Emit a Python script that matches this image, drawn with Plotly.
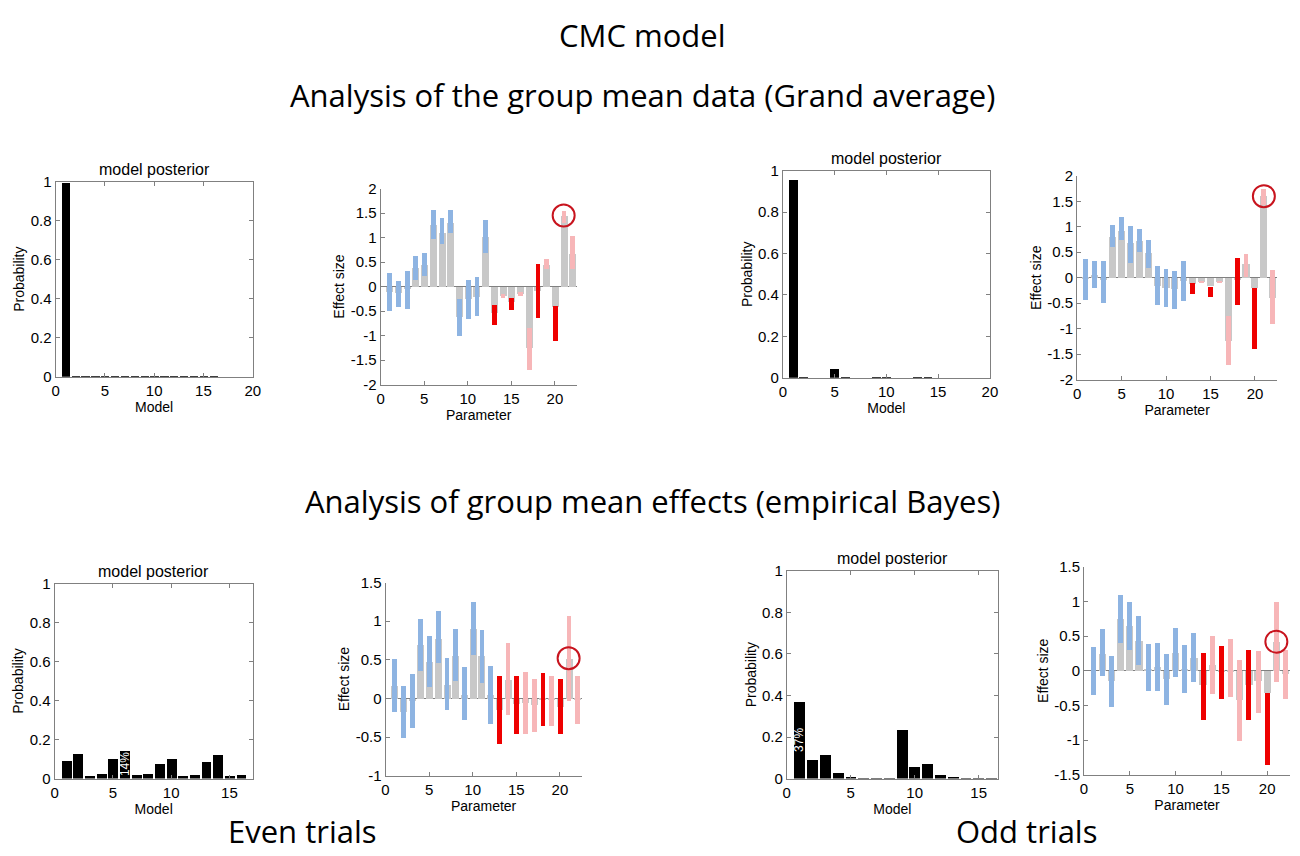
"""CMC model: model posteriors and parameter effect sizes (grand average vs PEB)."""

import plotly.graph_objects as go

W, H = 1300, 856

# ---- model posteriors (models 1..16) ----
models = list(range(1, 17))
post_ga_even = [0.995, 0.003, 0.001, 0.001, 0.004, 0.004, 0.001, 0.001,
                0.004, 0.004, 0.001, 0.001, 0.004, 0.004, 0.001, 0.001]
post_ga_odd = [0.955, 0.003, 0.0, 0.0, 0.043, 0.003, 0.0, 0.0,
               0.002, 0.002, 0.0, 0.0, 0.002, 0.002, 0.0, 0.0]
post_peb_even = [0.093, 0.130, 0.017, 0.027, 0.104, 0.144, 0.020, 0.027,
                 0.076, 0.105, 0.017, 0.020, 0.088, 0.122, 0.017, 0.020]
post_peb_odd = [0.368, 0.092, 0.113, 0.028, 0.006, 0.002, 0.002, 0.002,
                0.235, 0.058, 0.070, 0.020, 0.006, 0.002, 0.002, 0.002]

# ---- parameter effect sizes (parameters 1..22) ----
params = list(range(1, 23))
# b = blue, r = strong red, p = pale red
param_kind = ["b"] * 12 + ["r", "p", "r", "p", "p", "r", "p", "r", "p", "p"]
circled_param = 21

ga_even_mean = [-0.10, -0.12, -0.05, 0.38, 0.45, 1.27, 1.10, 1.30, -0.62, -0.25, -0.20,
                1.02, -0.52, -0.18, -0.30, -0.15, -1.25, -0.08, 0.45, -0.40, 1.45, 0.68]
ga_even_lo = [-0.48, -0.40, -0.45, 0.15, 0.22, 0.98, 0.87, 1.10, -1.00, -0.65, -0.60,
              0.70, -0.77, -0.22, -0.46, -0.19, -1.70, -0.64, 0.36, -1.10, 1.30, 0.36]
ga_even_hi = [0.29, 0.12, 0.32, 0.63, 0.70, 1.57, 1.40, 1.57, -0.25, 0.15, 0.20,
              1.37, -0.36, -0.14, -0.22, -0.11, -0.84, 0.47, 0.57, -0.39, 1.55, 1.04]

ga_odd_mean = [-0.03, 0.05, -0.05, 0.80, 0.93, 0.68, 0.72, 0.48, -0.15, -0.20, -0.22,
               -0.06, -0.12, -0.08, -0.15, -0.08, -1.23, -0.05, 0.28, -0.20, 1.60, -0.40]
ga_odd_lo = [-0.44, -0.20, -0.49, 0.60, 0.75, 0.30, 0.50, 0.20, -0.54, -0.57, -0.60,
             -0.46, -0.31, -0.10, -0.38, -0.10, -1.70, -0.53, 0.02, -1.40, 1.43, -0.91]
ga_odd_hi = [0.37, 0.34, 0.34, 1.04, 1.20, 1.01, 0.96, 0.74, 0.23, 0.17, 0.13,
             0.33, -0.10, -0.06, -0.17, -0.06, -0.75, 0.40, 0.47, -0.20, 1.75, 0.15]

peb_even_mean = [0.17, -0.17, -0.03, 0.70, 0.48, 0.78, 0.18, 0.55, 0.05, 0.90, 0.55,
                 0.05, -0.15, 0.25, -0.07, -0.05, -0.08, -0.01, -0.02, -0.10, 0.52, -0.01]
peb_even_lo = [-0.17, -0.51, -0.38, 0.36, 0.15, 0.46, -0.15, 0.23, -0.28, 0.57, 0.21,
               -0.32, -0.59, -0.21, -0.45, -0.46, -0.43, -0.35, -0.35, -0.45, -0.03, -0.33]
peb_even_hi = [0.51, 0.17, 0.32, 1.03, 0.82, 1.14, 0.53, 0.90, 0.41, 1.26, 0.89,
               0.42, 0.30, 0.72, 0.30, 0.35, 0.26, 0.33, 0.30, 0.26, 1.07, 0.30]

peb_odd_mean = [0.00, 0.25, -0.15, 0.75, 0.65, 0.43, 0.03, 0.05, -0.12, 0.26, 0.03,
                0.18, -0.20, 0.08, -0.02, -0.02, -0.42, -0.20, -0.15, -0.32, 0.42, -0.05]
peb_odd_lo = [-0.35, -0.08, -0.52, 0.40, 0.30, 0.09, -0.29, -0.29, -0.49, -0.09, -0.32,
              -0.16, -0.71, -0.34, -0.40, -0.37, -1.01, -0.71, -0.61, -1.36, -0.16, -0.40]
peb_odd_hi = [0.35, 0.61, 0.21, 1.10, 1.00, 0.79, 0.39, 0.40, 0.24, 0.62, 0.38,
              0.55, 0.26, 0.51, 0.36, 0.46, 0.16, 0.30, 0.29, -0.32, 1.00, 0.30]

KIND_COLORS = {"b": "rgb(142,180,226)", "r": "rgb(238,0,0)", "p": "rgb(247,182,184)"}
GREY = "rgb(200,200,200)"
AXIS_GREY = "rgb(128,128,128)"
CIRCLE_RED = "rgb(200,20,30)"
FONT = "Liberation Sans"
TICK_FONT = dict(family=FONT, size=15, color="black")
TITLE_FONT = dict(family=FONT, size=14, color="black")


def dom_x(left, right):
    return [left / W, right / W]


def dom_y(top, bottom):
    return [1 - bottom / H, 1 - top / H]


fig = go.Figure()


def add_posterior(n, post, x_range, x_ticks, dx, dy, pct_label=False):
    xa, ya = ("x", "y") if n == 1 else (f"x{n}", f"y{n}")
    fig.add_trace(go.Bar(x=models, y=post, width=0.85, marker=dict(color="black", line_width=0),
                         xaxis=xa, yaxis=ya, showlegend=False))
    common = dict(showline=True, linecolor=AXIS_GREY, linewidth=1, mirror="ticks",
                  ticks="inside", ticklen=4, tickcolor=AXIS_GREY, showgrid=False,
                  zeroline=False, tickfont=TICK_FONT)
    fig.layout[f"xaxis{n}"] = dict(domain=dom_x(*dx), range=x_range, tickvals=x_ticks,
                                   anchor=ya, title=dict(text="Model", standoff=0,
                                                         font=TITLE_FONT), **common)
    fig.layout[f"yaxis{n}"] = dict(domain=dom_y(*dy), range=[0, 1],
                                   tickvals=[0, 0.2, 0.4, 0.6, 0.8, 1],
                                   ticktext=["0", "0.2", "0.4", "0.6", "0.8", "1"],
                                   anchor=xa, title=dict(text="Probability", standoff=2,
                                                         font=TITLE_FONT), **common)
    fig.add_annotation(text="model posterior", xref=f"{xa} domain", yref=f"{ya} domain",
                       x=0.5, y=1, yanchor="bottom", yshift=2, showarrow=False,
                       font=dict(family=FONT, size=16, color="black"))
    if pct_label:
        best = max(range(len(post)), key=lambda i: post[i])
        fig.add_annotation(text=f"{round(post[best] * 100)}%", xref=xa, yref=ya,
                           x=models[best], y=post[best] / 2, textangle=-90, showarrow=False,
                           font=dict(family=FONT, size=12, color="white"))


def add_effects(n, mean, lo, hi, y_range, y_step, dx, dy):
    xa, ya = f"x{n}", f"y{n}"
    fig.add_trace(go.Bar(x=params, y=mean, width=0.8, marker=dict(color=GREY, line_width=0),
                         xaxis=xa, yaxis=ya, showlegend=False))
    for kind, color in KIND_COLORS.items():
        idx = [i for i, k in enumerate(param_kind) if k == kind]
        fig.add_trace(go.Bar(x=[params[i] for i in idx], base=[lo[i] for i in idx],
                             y=[hi[i] - lo[i] for i in idx], width=0.55,
                             marker=dict(color=color, line_width=0),
                             xaxis=xa, yaxis=ya, showlegend=False))
    ci = params.index(circled_param)
    fig.add_trace(go.Scatter(x=[circled_param], y=[mean[ci]], mode="markers",
                             marker=dict(symbol="circle-open", size=22, color=CIRCLE_RED,
                                         line=dict(color=CIRCLE_RED, width=2)),
                             xaxis=xa, yaxis=ya, showlegend=False))
    nticks = int(round((y_range[1] - y_range[0]) / y_step)) + 1
    yt = [round(y_range[0] + k * y_step, 2) for k in range(nticks)]
    common = dict(showline=True, linecolor=AXIS_GREY, linewidth=1, ticks="inside",
                  ticklen=4, tickcolor=AXIS_GREY, showgrid=False, tickfont=TICK_FONT)
    fig.layout[f"xaxis{n}"] = dict(domain=dom_x(*dx), range=[0, 22.5],
                                   tickvals=[0, 5, 10, 15, 20], anchor=ya, zeroline=False,
                                   title=dict(text="Parameter", standoff=0, font=TITLE_FONT),
                                   **common)
    fig.layout[f"yaxis{n}"] = dict(domain=dom_y(*dy), range=y_range, tickvals=yt,
                                   ticktext=[f"{v:g}" for v in yt], anchor=xa,
                                   zeroline=True, zerolinecolor=AXIS_GREY, zerolinewidth=1,
                                   title=dict(text="Effect size", standoff=2, font=TITLE_FONT),
                                   **common)


# top row: grand average
add_posterior(1, post_ga_even, [0, 20], [0, 5, 10, 15, 20], (44, 243), (168, 367))
add_effects(2, ga_even_mean, ga_even_lo, ga_even_hi, [-2, 2], 0.5, (372, 570), (175, 375))
add_posterior(3, post_ga_odd, [0, 20], [0, 5, 10, 15, 20], (778, 987), (157, 368))
add_effects(4, ga_odd_mean, ga_odd_lo, ga_odd_hi, [-2, 2], 0.5, (1075, 1277), (162, 370))

# bottom row: PEB
add_posterior(5, post_peb_even, [0, 17], [0, 5, 10, 15], (43, 243), (578, 777), pct_label=True)
add_effects(6, peb_even_mean, peb_even_lo, peb_even_hi, [-1, 1.5], 0.5, (377, 575), (577, 774))
add_posterior(7, post_peb_odd, [0, 16.5], [0, 5, 10, 15], (782, 995), (565, 777), pct_label=True)
add_effects(8, peb_odd_mean, peb_odd_lo, peb_odd_hi, [-1.5, 1.5], 0.5, (1082, 1290), (561, 773))

headings = [
    ("CMC model", 636, 18),
    ("Analysis of the group mean data (Grand average)", 636, 80),
    ("Analysis of group mean effects (empirical Bayes)", 646, 494),
    ("Even trials", 293, 831),
    ("Odd trials", 1024, 831),
]
for text, x, y in headings:
    fig.add_annotation(text=text, xref="paper", yref="paper", x=x / W, y=1 - y / H,
                       xanchor="center", yanchor="middle", showarrow=False,
                       font=dict(family="Open Sans", size=31, color="black"))

fig.update_layout(
    width=W,
    height=H,
    margin=dict(l=0, r=0, t=0, b=0),
    barmode="overlay",
    bargap=0,
    paper_bgcolor="white",
    plot_bgcolor="white",
    showlegend=False,
)

fig.write_html("out.html")
